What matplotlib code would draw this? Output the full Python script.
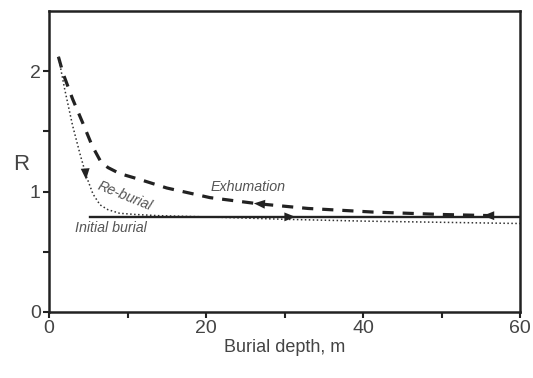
import matplotlib
matplotlib.use("Agg")
import matplotlib.pyplot as plt
import numpy as np

plt.rcParams['font.family'] = ['Liberation Sans', 'DejaVu Sans']

# Data
exh_x = [1.2, 1.8, 3.0, 4.3, 5.5, 6.5, 7.5, 9.0, 11.6, 15.0, 20.5, 26.5, 33.0, 41.3, 50.0, 56.5]
exh_y = [2.12, 1.98, 1.77, 1.57, 1.38, 1.26, 1.20, 1.15, 1.10, 1.03, 0.95, 0.90, 0.86, 0.83, 0.81, 0.80]

reb_x = [1.2, 2.0, 3.0, 4.0, 4.8, 5.6, 6.5, 7.5, 9.0, 11.0, 14.0, 20.0, 30.0, 40.0, 50.0, 60.0]
reb_y = [2.12, 1.85, 1.55, 1.30, 1.12, 0.98, 0.89, 0.85, 0.82, 0.81, 0.80, 0.79, 0.77, 0.755, 0.745, 0.735]

ini_x = [5.2, 60.0]
ini_y = [0.79, 0.79]

xticks = [0, 10, 20, 30, 40, 50, 60]
xticklabels = ['0', '', '20', '', '40', '', '60']
yticks = [0, 0.5, 1, 1.5, 2]
yticklabels = ['0', '', '1', '', '2']

fig = plt.figure(figsize=(5.33, 3.78), dpi=100)
ax = fig.add_axes([49/533, 1 - 312/378, (520 - 49)/533, (312 - 11)/378])

ax.plot(exh_x, exh_y, color='#222222', lw=2.3, ls=(0, (3.5, 2.8)))
ax.plot(reb_x, reb_y, color='#333333', lw=1.1, ls=(0, (1, 1.6)))
ax.plot(ini_x, ini_y, color='#222222', lw=1.7)

def arrow(x, y, dx, dy):
    ax.annotate('', xy=(x + dx, y + dy), xytext=(x, y),
                arrowprops=dict(arrowstyle='-|>,head_length=0.8,head_width=0.32',
                                color='#222222', lw=0, shrinkA=0, shrinkB=0))

arrow(27.5, 0.895, -1.4, 0.007)
arrow(30.0, 0.79, 1.4, 0.0)
arrow(4.6, 1.20, 0.12, -0.10)
arrow(56.5, 0.80, -1.2, 0.0)

ax.text(25.3, 1.035, 'Exhumation', style='italic', fontsize=10.3, color='#555555',
        ha='center', va='center')
ax.text(9.6, 0.965, 'Re-burial', style='italic', fontsize=10.3, color='#555555',
        ha='center', va='center', rotation=-22)
ax.text(7.9, 0.70, 'Initial burial', style='italic', fontsize=10.3, color='#555555',
        ha='center', va='center')

ax.set_xlim(0, 60)
ax.set_ylim(0, 2.5)
ax.set_xticks(xticks)
ax.set_xticklabels(xticklabels)
ax.set_yticks(yticks)
ax.set_yticklabels(yticklabels)
ax.tick_params(direction='out', length=4, width=1.5, labelsize=14, colors='#222222',
               labelcolor='#444444', pad=2)
for s in ax.spines.values():
    s.set_linewidth(1.8)
    s.set_color('#222222')
ax.set_xlabel('Burial depth, m', fontsize=13, color='#444444', labelpad=1)
ax.set_ylabel('R', fontsize=16, color='#444444', rotation=0, labelpad=6, va='center')
ax.yaxis.set_label_coords(-0.058, 0.49)

fig.savefig('out.png', dpi=100)
